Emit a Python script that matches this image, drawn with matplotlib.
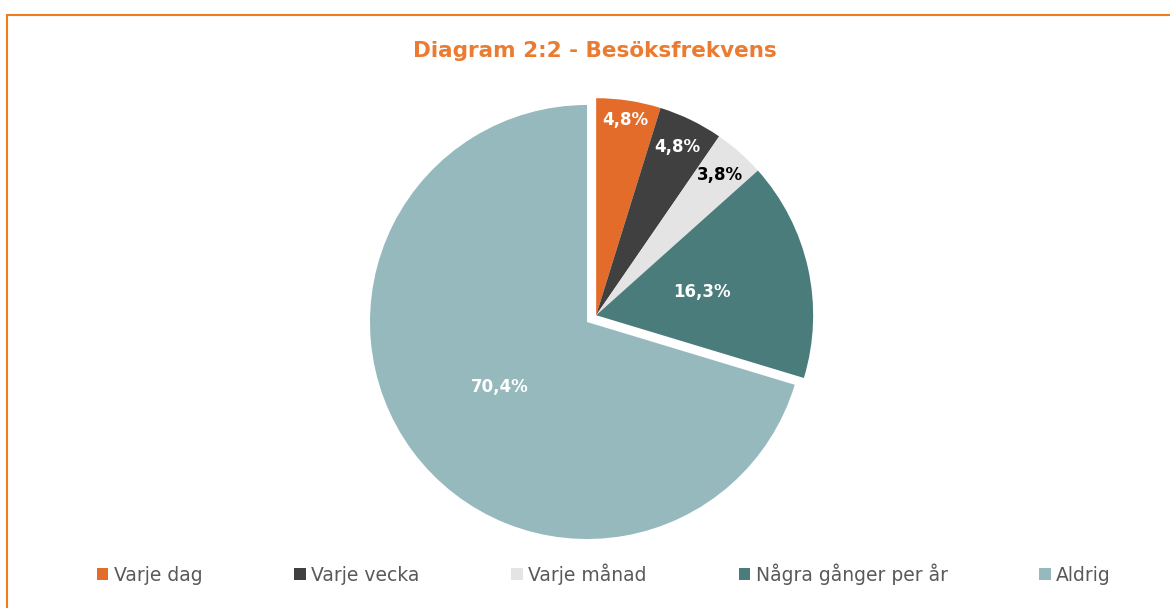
import numpy as np
import matplotlib
matplotlib.use('Agg')
import matplotlib.pyplot as plt
from matplotlib.patches import Rectangle

# data
categories = ['Varje dag', 'Varje vecka', 'Varje månad', 'Några gånger per år', 'Aldrig']
shares = [4.8, 4.8, 3.8, 16.3, 70.4]
colors = ['#E46C2A', '#404040', '#E4E4E4', '#4A7C7C', '#96B9BE']
label_colors = ['white', 'white', 'black', 'white', 'white']
label_dist = [0.91, 0.86, 0.86, 0.5, 0.5]
n_exploded = 4

W, H = 1170, 608
fig = plt.figure(figsize=(W / 100, H / 100), dpi=100)
ax = fig.add_axes([0, 0, 1, 1])

cx, cy, r = 587, H - 322, 217
wedges, _ = ax.pie(shares, colors=colors, startangle=90, counterclock=False,
                   radius=r, center=(cx, cy), frame=True,
                   wedgeprops=dict(linewidth=0))
ax.set_xlim(0, W)
ax.set_ylim(0, H)
ax.set_aspect('equal')
ax.axis('off')

# the first four slices are pulled out together along their common bisector
t1 = wedges[n_exploded - 1].theta1
t2 = wedges[0].theta2
mid = np.deg2rad((t1 + t2) / 2)
shift = 11.4
dx, dy = shift * np.cos(mid), shift * np.sin(mid)
for w in wedges[:n_exploded]:
    w.set_center((cx + dx, cy + dy))

for i, w in enumerate(wedges):
    ang = np.deg2rad((w.theta1 + w.theta2) / 2)
    ox, oy = w.center
    txt = f'{shares[i]:.1f}%'.replace('.', ',')
    ax.text(ox + r * label_dist[i] * np.cos(ang), oy + r * label_dist[i] * np.sin(ang), txt,
            ha='center', va='center', fontsize=12, fontweight='bold',
            color=label_colors[i])

fig.text(595 / W, 1 - 51 / H, 'Diagram 2:2 - Besöksfrekvens', ha='center', va='center',
         fontsize=15.5, fontweight='bold', color='#EB7B30')

leg = fig.legend(wedges, categories, loc='center', bbox_to_anchor=(604 / W, 1 - 574 / H),
                 ncol=5, frameon=False, fontsize=13.5, handlelength=0.6, handleheight=0.55,
                 handletextpad=0.3, columnspacing=4.9, labelcolor='#595959')

fig.add_artist(Rectangle((7 / W, -0.1), 1.2, 1 - 15 / H + 0.1, transform=fig.transFigure,
                         fill=False, edgecolor='#F07D1A', linewidth=1.5))

fig.savefig('out.png', dpi=100)
